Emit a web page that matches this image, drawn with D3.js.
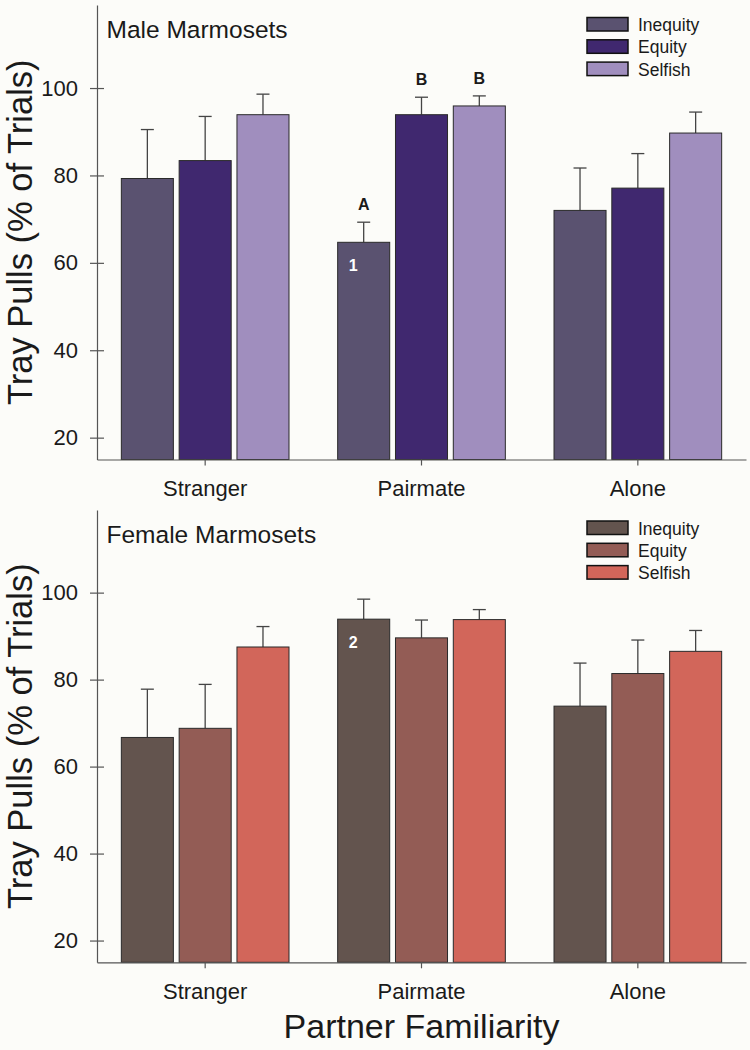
<!DOCTYPE html>
<html>
<head>
<meta charset="utf-8">
<script src="https://cdn.jsdelivr.net/npm/d3@7"></script>
<style>
  html, body { margin: 0; padding: 0; background: #fcfcf9; }
  svg { display: block; }
  text { font-family: "Liberation Sans", Arial, sans-serif; fill: #1a1a1a; }
</style>
</head>
<body>
<svg id="chart" width="750" height="1050"></svg>
<script>
// ---------- data ----------
const categories = ["Stranger", "Pairmate", "Alone"];
const series = ["Inequity", "Equity", "Selfish"];
const yTicks = [20, 40, 60, 80, 100];

// means by category (rows) and series (columns)
const maleMeans   = [[79.3, 83.4, 93.9], [64.7, 93.9, 95.9], [72.0, 77.1, 89.7]];
const maleErrors  = [[11.2, 10.1, 4.7],  [4.6, 4.0, 2.3],    [9.7, 7.9, 4.8]];
const femaleMeans  = [[66.7, 68.8, 87.5], [93.9, 89.6, 93.8], [73.9, 81.4, 86.5]];
const femaleErrors = [[11.1, 10.1, 4.7],  [4.6, 4.1, 2.3],    [9.9, 7.7, 4.8]];

const maleColors   = ["#5a5270", "#40286f", "#a08ebe"];
const femaleColors = ["#63544e", "#935c55", "#d2665a"];

// letters above bars (category, series, text)
const maleLetters = [["Pairmate", "Inequity", "A"], ["Pairmate", "Equity", "B"], ["Pairmate", "Selfish", "B"]];
const maleNotes   = [["Pairmate", "Inequity", "1"]];
const femaleLetters = [];
const femaleNotes   = [["Pairmate", "Inequity", "2"]];

// ---------- drawing ----------
const svg = d3.select("#chart");
const left = 97, right = 746;

const x0 = d3.scaleBand().domain(categories).range([left, right])
  .paddingInner(0.225).paddingOuter(0.1125);
const x1 = d3.scaleBand().domain(series).range([0, x0.bandwidth()]).paddingInner(0.1);

function panel(cfg) {
  const y = d3.scaleLinear().domain([15, 119]).range([cfg.bottom, cfg.top]);
  const g = svg.append("g");

  const rows = [];
  categories.forEach((c, i) => series.forEach((s, j) => {
    rows.push({ c, s, j, v: cfg.means[i][j], e: cfg.errors[i][j] });
  }));

  const bx = d => x0(d.c) + x1(d.s);

  // error bars
  const eb = g.append("g").attr("stroke", "#444").attr("stroke-width", 1.3);
  rows.forEach(d => {
    const cx = bx(d) + x1.bandwidth() / 2;
    eb.append("line").attr("x1", cx).attr("x2", cx)
      .attr("y1", y(d.v)).attr("y2", y(d.v + d.e));
    eb.append("line").attr("x1", cx - 6.5).attr("x2", cx + 6.5)
      .attr("y1", y(d.v + d.e)).attr("y2", y(d.v + d.e));
  });

  g.append("g").selectAll("rect").data(rows).join("rect")
    .attr("x", bx)
    .attr("y", d => y(d.v))
    .attr("width", x1.bandwidth())
    .attr("height", d => cfg.bottom - y(d.v))
    .attr("fill", d => cfg.colors[d.j])
    .attr("stroke", "#2a2a2a")
    .attr("stroke-width", 1);

  // significance letters
  cfg.letters.forEach(([c, s, t]) => {
    const i = categories.indexOf(c), j = series.indexOf(s);
    const top = y(cfg.means[i][j] + cfg.errors[i][j]);
    g.append("text")
      .attr("x", x0(c) + x1(s) + x1.bandwidth() / 2)
      .attr("y", top - 12)
      .attr("text-anchor", "middle")
      .attr("font-size", 16).attr("font-weight", "bold")
      .text(t);
  });

  // notes inside bars
  cfg.notes.forEach(([c, s, t]) => {
    const i = categories.indexOf(c);
    const j = series.indexOf(s);
    g.append("text")
      .attr("x", x0(c) + x1(s) + x1.bandwidth() * 0.3)
      .attr("y", y(cfg.means[i][j]) + 29)
      .attr("text-anchor", "middle")
      .attr("font-size", 16).attr("font-weight", "bold")
      .style("fill", "#ffffff")
      .text(t);
  });

  // y axis
  const ya = g.append("g").attr("transform", `translate(${left},0)`)
    .call(d3.axisLeft(y).tickValues(yTicks).tickSize(7).tickPadding(12).tickSizeOuter(0));
  ya.select(".domain").attr("stroke", "#555").attr("stroke-width", 1.2);
  ya.selectAll(".tick line").attr("x1", 7).attr("stroke", "#555").attr("stroke-width", 1.2);
  ya.selectAll(".tick text").attr("font-size", 22).style("fill", "#1a1a1a")
    .attr("font-family", "Liberation Sans, Arial, sans-serif");

  // x axis
  const xa = g.append("g").attr("transform", `translate(0,${cfg.bottom})`)
    .call(d3.axisBottom(x0).tickSize(6).tickPadding(15).tickSizeOuter(0));
  xa.select(".domain").attr("stroke", "#555").attr("stroke-width", 1.2);
  xa.selectAll(".tick line").attr("stroke", "#555").attr("stroke-width", 1.2);
  xa.selectAll(".tick text").attr("font-size", 22).style("fill", "#1a1a1a")
    .attr("font-family", "Liberation Sans, Arial, sans-serif");

  // title
  g.append("text").attr("x", 106.5).attr("y", cfg.titleY)
    .attr("font-size", 24.5).text(cfg.title);

  // y label
  g.append("text")
    .attr("transform", `translate(31.5,${(cfg.top + cfg.bottom) / 2}) rotate(-90)`)
    .attr("text-anchor", "middle")
    .attr("font-size", 34.5)
    .text("Tray Pulls (% of Trials)");

  // legend
  const lg = g.append("g");
  series.forEach((s, j) => {
    const by = cfg.legendY + j * 22.3;
    lg.append("rect").attr("x", 587).attr("y", by - 13.5).attr("width", 41).attr("height", 13.5)
      .attr("fill", cfg.colors[j]).attr("stroke", "#111").attr("stroke-width", 1.5);
    lg.append("text").attr("x", 638).attr("y", by).attr("font-size", 17.5).text(s);
  });
}

panel({ top: 5, bottom: 459.5, means: maleMeans, errors: maleErrors, colors: maleColors,
        letters: maleLetters, notes: maleNotes, title: "Male Marmosets", titleY: 38.3, legendY: 31 });
panel({ top: 510, bottom: 962.3, means: femaleMeans, errors: femaleErrors, colors: femaleColors,
        letters: femaleLetters, notes: femaleNotes, title: "Female Marmosets", titleY: 542.7, legendY: 534.5 });

svg.append("text").attr("x", (left + right) / 2).attr("y", 1038)
  .attr("text-anchor", "middle").attr("font-size", 34)
  .text("Partner Familiarity");
</script>
</body>
</html>
